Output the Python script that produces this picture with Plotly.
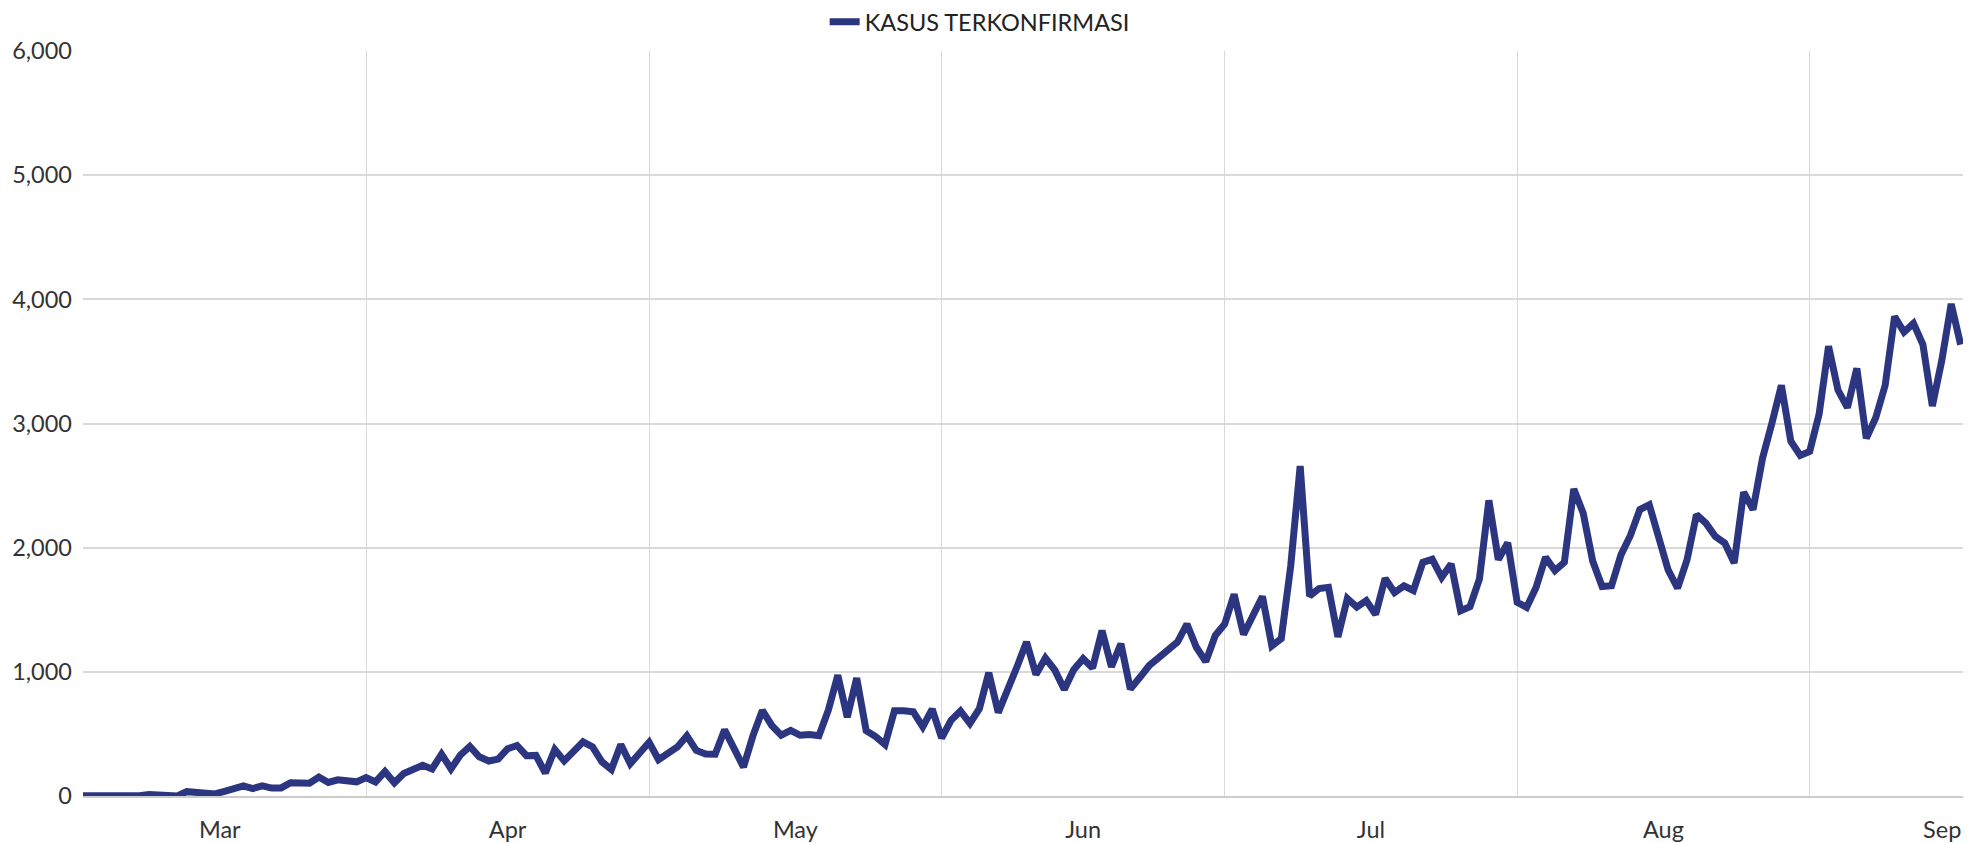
import pandas as pd
import plotly.graph_objects as go

start_date = "2020-03-02"
series_name = "KASUS TERKONFIRMASI"

mar = [2, 0, 0, 0, 2, 0, 2, 13, 8, 7, 0, 35, 27, 21, 17, 38, 55, 82, 60, 81,
       64, 65, 107, 105, 103, 153, 109, 130, 129, 114]
apr = [149, 113, 196, 106, 181, 218, 247, 218, 337, 219, 330, 399, 316, 282, 297,
       380, 407, 325, 327, 185, 375, 283, 357, 436, 396, 275, 214, 415, 260, 347]
may = [433, 292, 349, 395, 484, 367, 338, 336, 533, 387, 233, 484, 689, 568, 490,
       529, 489, 496, 486, 693, 973, 634, 949, 526, 479, 415, 686, 687, 678, 557, 700]
jun = [467, 609, 684, 585, 703, 993, 672, 847, 1043, 1241, 979, 1111, 1014, 857, 1017,
       1106, 1031, 1331, 1041, 1226, 862, 954, 1051, 1113, 1178, 1240, 1385, 1198, 1082, 1293]
jul = [1385, 1624, 1301, 1447, 1607, 1209, 1268, 1853, 2657, 1611, 1671, 1681, 1282, 1591, 1522,
       1574, 1462, 1752, 1639, 1693, 1655, 1882, 1906, 1761, 1868, 1492, 1525, 1748, 2381, 1904, 2040]
aug = [1560, 1519, 1679, 1922, 1815, 1882, 2473, 2277, 1893, 1687, 1693, 1942, 2098, 2307, 2345,
       2081, 1821, 1673, 1902, 2266, 2197, 2090, 2037, 1877, 2447, 2306, 2719, 3003, 3308, 2858, 2743]
sep = [2775, 3075, 3622, 3269, 3128, 3444, 2880, 3046, 3307, 3861, 3737, 3806, 3636, 3141, 3507,
       3963, 3635]

month_labels = ["Mar", "Apr", "May", "Jun", "Jul", "Aug", "Sep"]
month_starts = ["2020-03-01", "2020-04-01", "2020-05-01", "2020-06-01",
                "2020-07-01", "2020-08-01", "2020-09-01"]
y_ticks = [0, 1000, 2000, 3000, 4000, 5000, 6000]

values = mar + apr + may + jun + jul + aug + sep
dates = pd.date_range(start_date, periods=len(values), freq="D")

starts = pd.to_datetime(month_starts)
x_end = dates[-1] + pd.Timedelta(hours=6)
# label each month at its middle, kept inside the axis for the last (partial) month
mids = [min(s + pd.Timedelta(days=s.days_in_month / 2), x_end - pd.Timedelta(days=2.2))
        for s in starts]

font_family = "Lato, 'Open Sans', sans-serif"
grid_col = "#d9d9d9"

fig = go.Figure()
fig.add_trace(go.Scatter(
    x=dates, y=values, mode="lines", name=series_name,
    line=dict(color="#2c3680", width=7),
    showlegend=True,
))

fig.update_layout(
    width=1974, height=835,
    margin=dict(l=75, r=19, t=43, b=47, autoexpand=False),
    paper_bgcolor="white", plot_bgcolor="white",
    font=dict(family=font_family, size=23.5, color="#333333"),
    showlegend=True,
    legend=dict(orientation="h", x=0.3945, xanchor="left", y=1.0389, yanchor="middle",
                font=dict(size=23.5, color="#222222"), itemwidth=30),
)

fig.update_xaxes(
    type="date",
    range=[dates[0], x_end],
    tickmode="array", tickvals=mids, ticktext=month_labels,
    showgrid=False, ticks="", ticklabelstandoff=12,
    showline=True, linecolor="#cccccc", linewidth=2,
    zeroline=False,
    minor=dict(tickmode="array", tickvals=starts[1:], showgrid=True,
               gridcolor=grid_col, gridwidth=1.2, ticks=""),
)
fig.update_yaxes(
    range=[0, 6000], tickmode="array", tickvals=y_ticks,
    tickformat=",", showgrid=True, gridcolor=grid_col, gridwidth=1.5,
    zeroline=False, ticks="", ticklabelstandoff=10,
)

fig.write_html("out.html")
